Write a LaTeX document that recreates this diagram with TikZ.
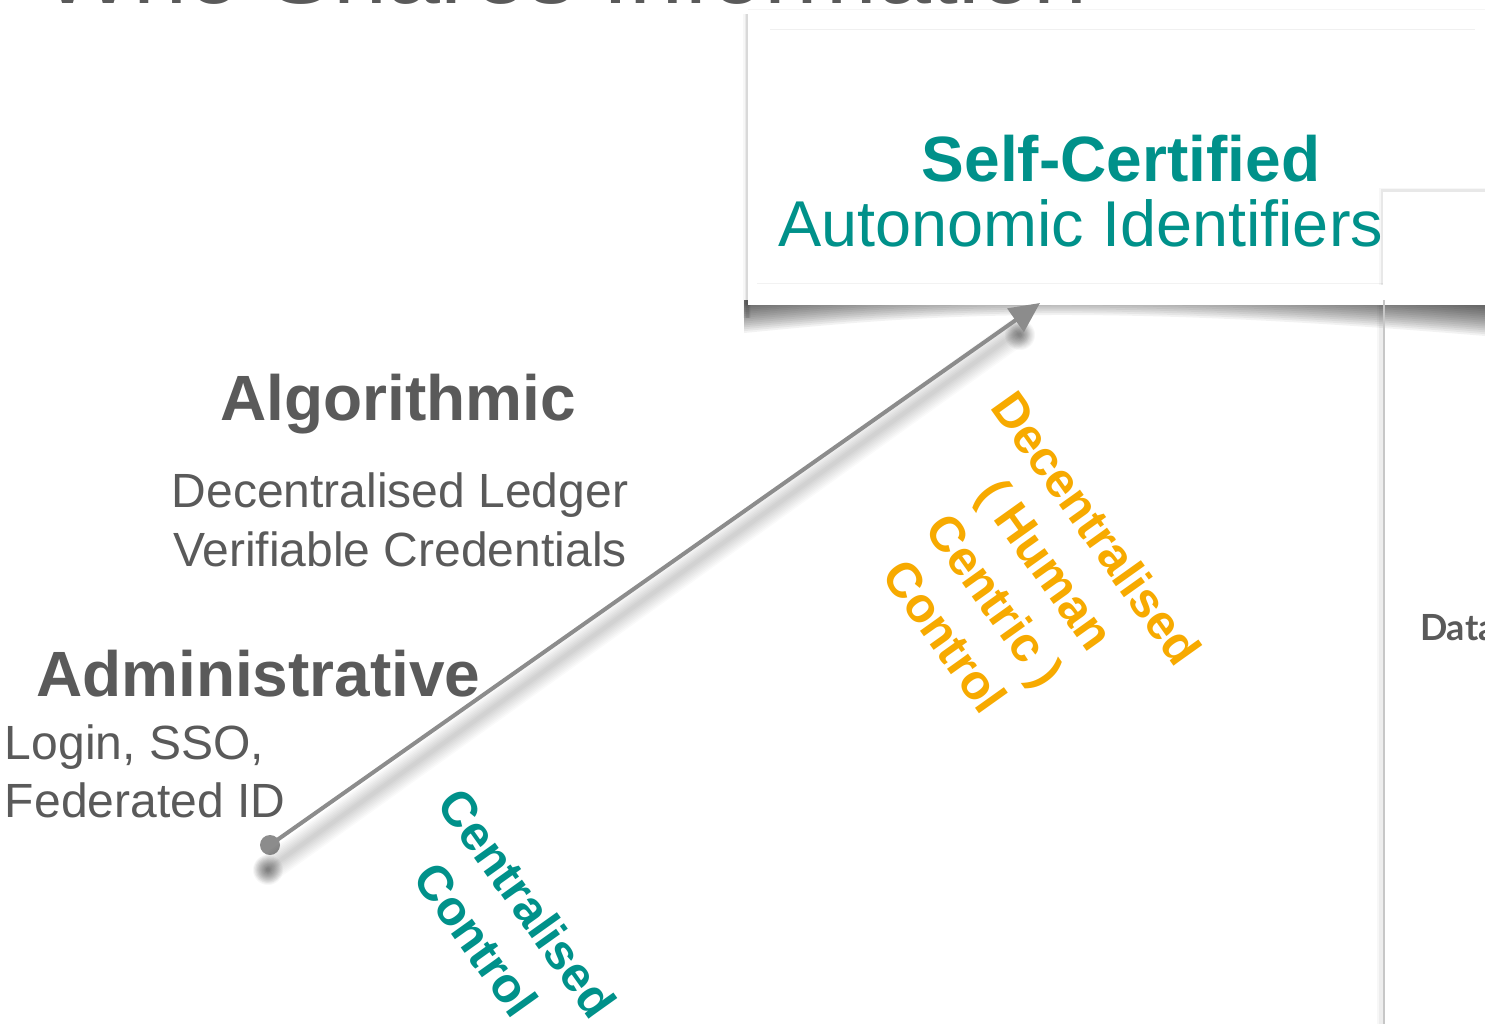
\documentclass[tikz,border=0pt]{standalone}
\usepackage{fontspec}
\setmainfont{Liberation Sans}
\newfontfamily\latofont{Lato}
\usetikzlibrary{arrows.meta,calc}
\definecolor{tealc}{HTML}{00918A}
\definecolor{amber}{HTML}{F7AA00}
\definecolor{txtgray}{HTML}{5A5A5A}
\definecolor{arrgray}{HTML}{8C8C8C}
\begin{document}
\begin{tikzpicture}[x=1pt,y=-1pt,
  lbl/.style={inner sep=0pt, outer sep=0pt},
  panel/.style={fill=white},
  arrowline/.style={draw=arrgray, line width=4pt, -{Triangle[length=30pt,width=28pt]}}
]
\useasboundingbox (0,0) rectangle (1485,1024);
\clip (0,0) rectangle (1485,1024);
\fill[white] (0,0) rectangle (1485,1024);

% title (cut off at the top)
\node[lbl, anchor=base west, text=txtgray, font=\fontsize{97}{100}\selectfont] (title) at (42,4) {Who Shares Information};

% bottom curved shadow of the main box (stacked soft layers)
\foreach \i in {0,...,15} {
  \fill[black, opacity=0.05]
    (744,300) -- (744,{333-1.9*\i}) .. controls (900,{318-1.9*\i}) and (1060,{300-1.9*\i}) .. (1485,{336-1.9*\i}) -- (1485,300) -- cycle;
}
% left edge shadow of the main box
\foreach \w/\o in {8/0.03, 5/0.05, 3/0.07} {
  \draw[black, opacity=\o, line width=\w pt] (747,14) -- (747,318);
}

% main white box
\path[panel] (748,10) rectangle (1500,305);
\draw[black!4, line width=1pt] (748,10) -- (1485,10);
\draw[black!6, line width=1pt] (770,30) -- (1475,30);
\draw[black!5, line width=1pt] (757,283) -- (1475,283);

\node[lbl, anchor=base, text=tealc, font=\fontsize{64}{70}\selectfont\bfseries] (selfcert) at (1121,182) {Self-Certified};
\node[lbl, anchor=base west, text=tealc, font=\fontsize{64.8}{70}\selectfont] (autonomic) at (778,247) {Autonomic Identifiers};

% small box at right
\foreach \w/\o in {6/0.03, 3/0.06} {
  \draw[black, opacity=\o, line width=\w pt] (1382,285) -- (1382,191) -- (1485,191);
}
\path[panel] (1383,192) rectangle (1520,285);

% right panel edge
\foreach \w/\o in {8/0.03, 5/0.04} {
  \draw[black, opacity=\o, line width=\w pt] (1381,305) -- (1381,1024);
}
\draw[black!22, line width=2pt] (1384,300) -- (1384,1024);
\node[lbl, anchor=base west, text=txtgray, font=\fontsize{36}{40}\selectfont\latofont\bfseries] (data) at (1420,640) {Data};

% left texts
\node[lbl, anchor=base, text=txtgray, font=\fontsize{64}{70}\selectfont\bfseries] (algo) at (398,420) {Algorithmic};
\node[lbl, anchor=base, align=center, text=txtgray, font=\fontsize{48}{59}\selectfont] (ledger) at (400,566) {Decentralised Ledger\\Verifiable Credentials};
\node[lbl, anchor=base west, text=txtgray, font=\fontsize{64}{70}\selectfont\bfseries] (admin) at (36,696) {Administrative};
\node[lbl, anchor=base west, align=left, text=txtgray, font=\fontsize{48}{58}\selectfont] (login) at (5,817) {Login, SSO,\\Federated ID};

% arrow with soft shadow
\node[circle, fill=arrgray, minimum size=20pt, inner sep=0pt] (dot) at (270,845) {};
\coordinate (tip) at (1040,303);
\foreach \w in {4,7,...,28} {
  \draw[black, line width=\w pt, opacity=0.018, line cap=round] ($(dot.center)+(-2,24)$) -- ($(tip)+(-24,30)$);
}
\foreach \r in {2,...,15} {
  \fill[black, opacity=0.03] ($(dot.center)+(-2,25)$) circle (\r);
  \fill[black, opacity=0.03] ($(tip)+(-20,32)$) circle (\r);
}
\draw[arrowline] (dot.center) -- (tip);

% rotated labels
\node[lbl, rotate=-54.5, align=center, text=tealc, font=\fontsize{49}{63}\selectfont\bfseries] (central) at (502,921) {Centralised\\Control};
\node[lbl, rotate=-54.5, align=center, text=amber, font=\fontsize{49}{62}\selectfont\bfseries] (decentral) at (1021,582) {Decentralised\\( Human\\Centric )\\Control};
\end{tikzpicture}
\end{document}
